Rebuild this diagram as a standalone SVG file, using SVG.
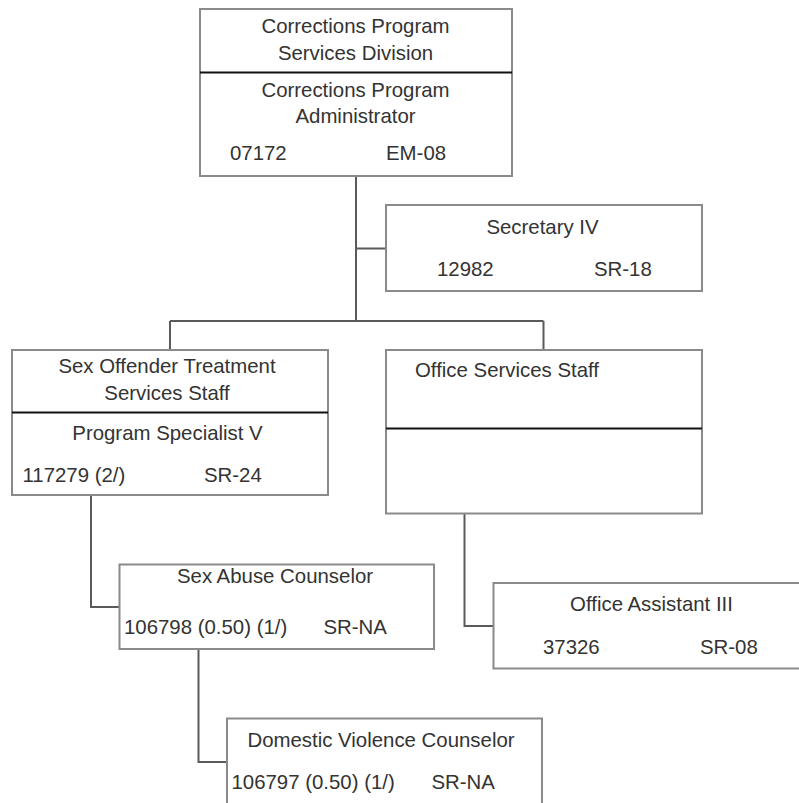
<svg xmlns="http://www.w3.org/2000/svg" width="799" height="803" viewBox="0 0 799 803">
<style>
.box{fill:#fff;stroke:#8a8a8a;stroke-width:2}
.div{stroke:#111;stroke-width:2}
.conn{fill:none;stroke:#5a5a5a;stroke-width:2}
text{font-family:"Liberation Sans",Arial,sans-serif;font-size:20.4px;fill:#333}
.c{text-anchor:middle}
</style>
<rect width="799" height="803" fill="#fff"/>
<g id="connectors">
<path class="conn" d="M356,176 V321 M356,248.5 H386 M170,321 H543.5 M170,321 V350 M543.5,321 V350"/>
<path class="conn" d="M91,495 V607 H119.5"/>
<path class="conn" d="M464.5,513.5 V626 H493.5"/>
<path class="conn" d="M198.5,649 V762 H227"/>
</g>
<g id="division">
<rect class="box" x="200" y="9" width="312" height="167"/>
<line class="div" x1="200" y1="72.5" x2="512" y2="72.5"/>
<text class="c" x="355.5" y="33">Corrections Program</text>
<text class="c" x="355.5" y="60">Services Division</text>
<text class="c" x="355.5" y="97">Corrections Program</text>
<text class="c" x="355.5" y="123">Administrator</text>
<text x="230" y="160">07172</text>
<text x="386" y="160">EM-08</text>
</g>
<g id="secretary">
<rect class="box" x="386" y="205" width="316" height="86"/>
<text class="c" x="542.5" y="234">Secretary IV</text>
<text x="437" y="276">12982</text>
<text x="594" y="276">SR-18</text>
</g>
<g id="sots">
<rect class="box" x="12" y="350" width="316" height="145"/>
<line class="div" x1="12" y1="412.5" x2="328" y2="412.5"/>
<text class="c" x="167" y="373">Sex Offender Treatment</text>
<text class="c" x="167" y="400">Services Staff</text>
<text class="c" x="167.5" y="440">Program Specialist V</text>
<text x="22.5" y="482">117279 (2/)</text>
<text x="204" y="482">SR-24</text>
</g>
<g id="office-services">
<rect class="box" x="386" y="350" width="316" height="163.5"/>
<line class="div" x1="386" y1="428.5" x2="702" y2="428.5"/>
<text x="415" y="377">Office Services Staff</text>
</g>
<g id="sex-abuse">
<rect class="box" x="119.5" y="564.5" width="314.5" height="84.5"/>
<text class="c" x="275" y="582.5">Sex Abuse Counselor</text>
<text x="124" y="633.5">106798 (0.50) (1/)</text>
<text x="323.5" y="633.5">SR-NA</text>
</g>
<g id="office-assistant">
<rect class="box" x="493.5" y="583" width="316" height="85.5"/>
<text class="c" x="651.5" y="611">Office Assistant III</text>
<text x="543" y="654">37326</text>
<text x="700" y="654">SR-08</text>
</g>
<g id="domestic-violence">
<rect class="box" x="227" y="718.5" width="315" height="100"/>
<text class="c" x="381" y="747">Domestic Violence Counselor</text>
<text x="231.5" y="789">106797 (0.50) (1/)</text>
<text x="431.5" y="789">SR-NA</text>
</g>
</svg>
